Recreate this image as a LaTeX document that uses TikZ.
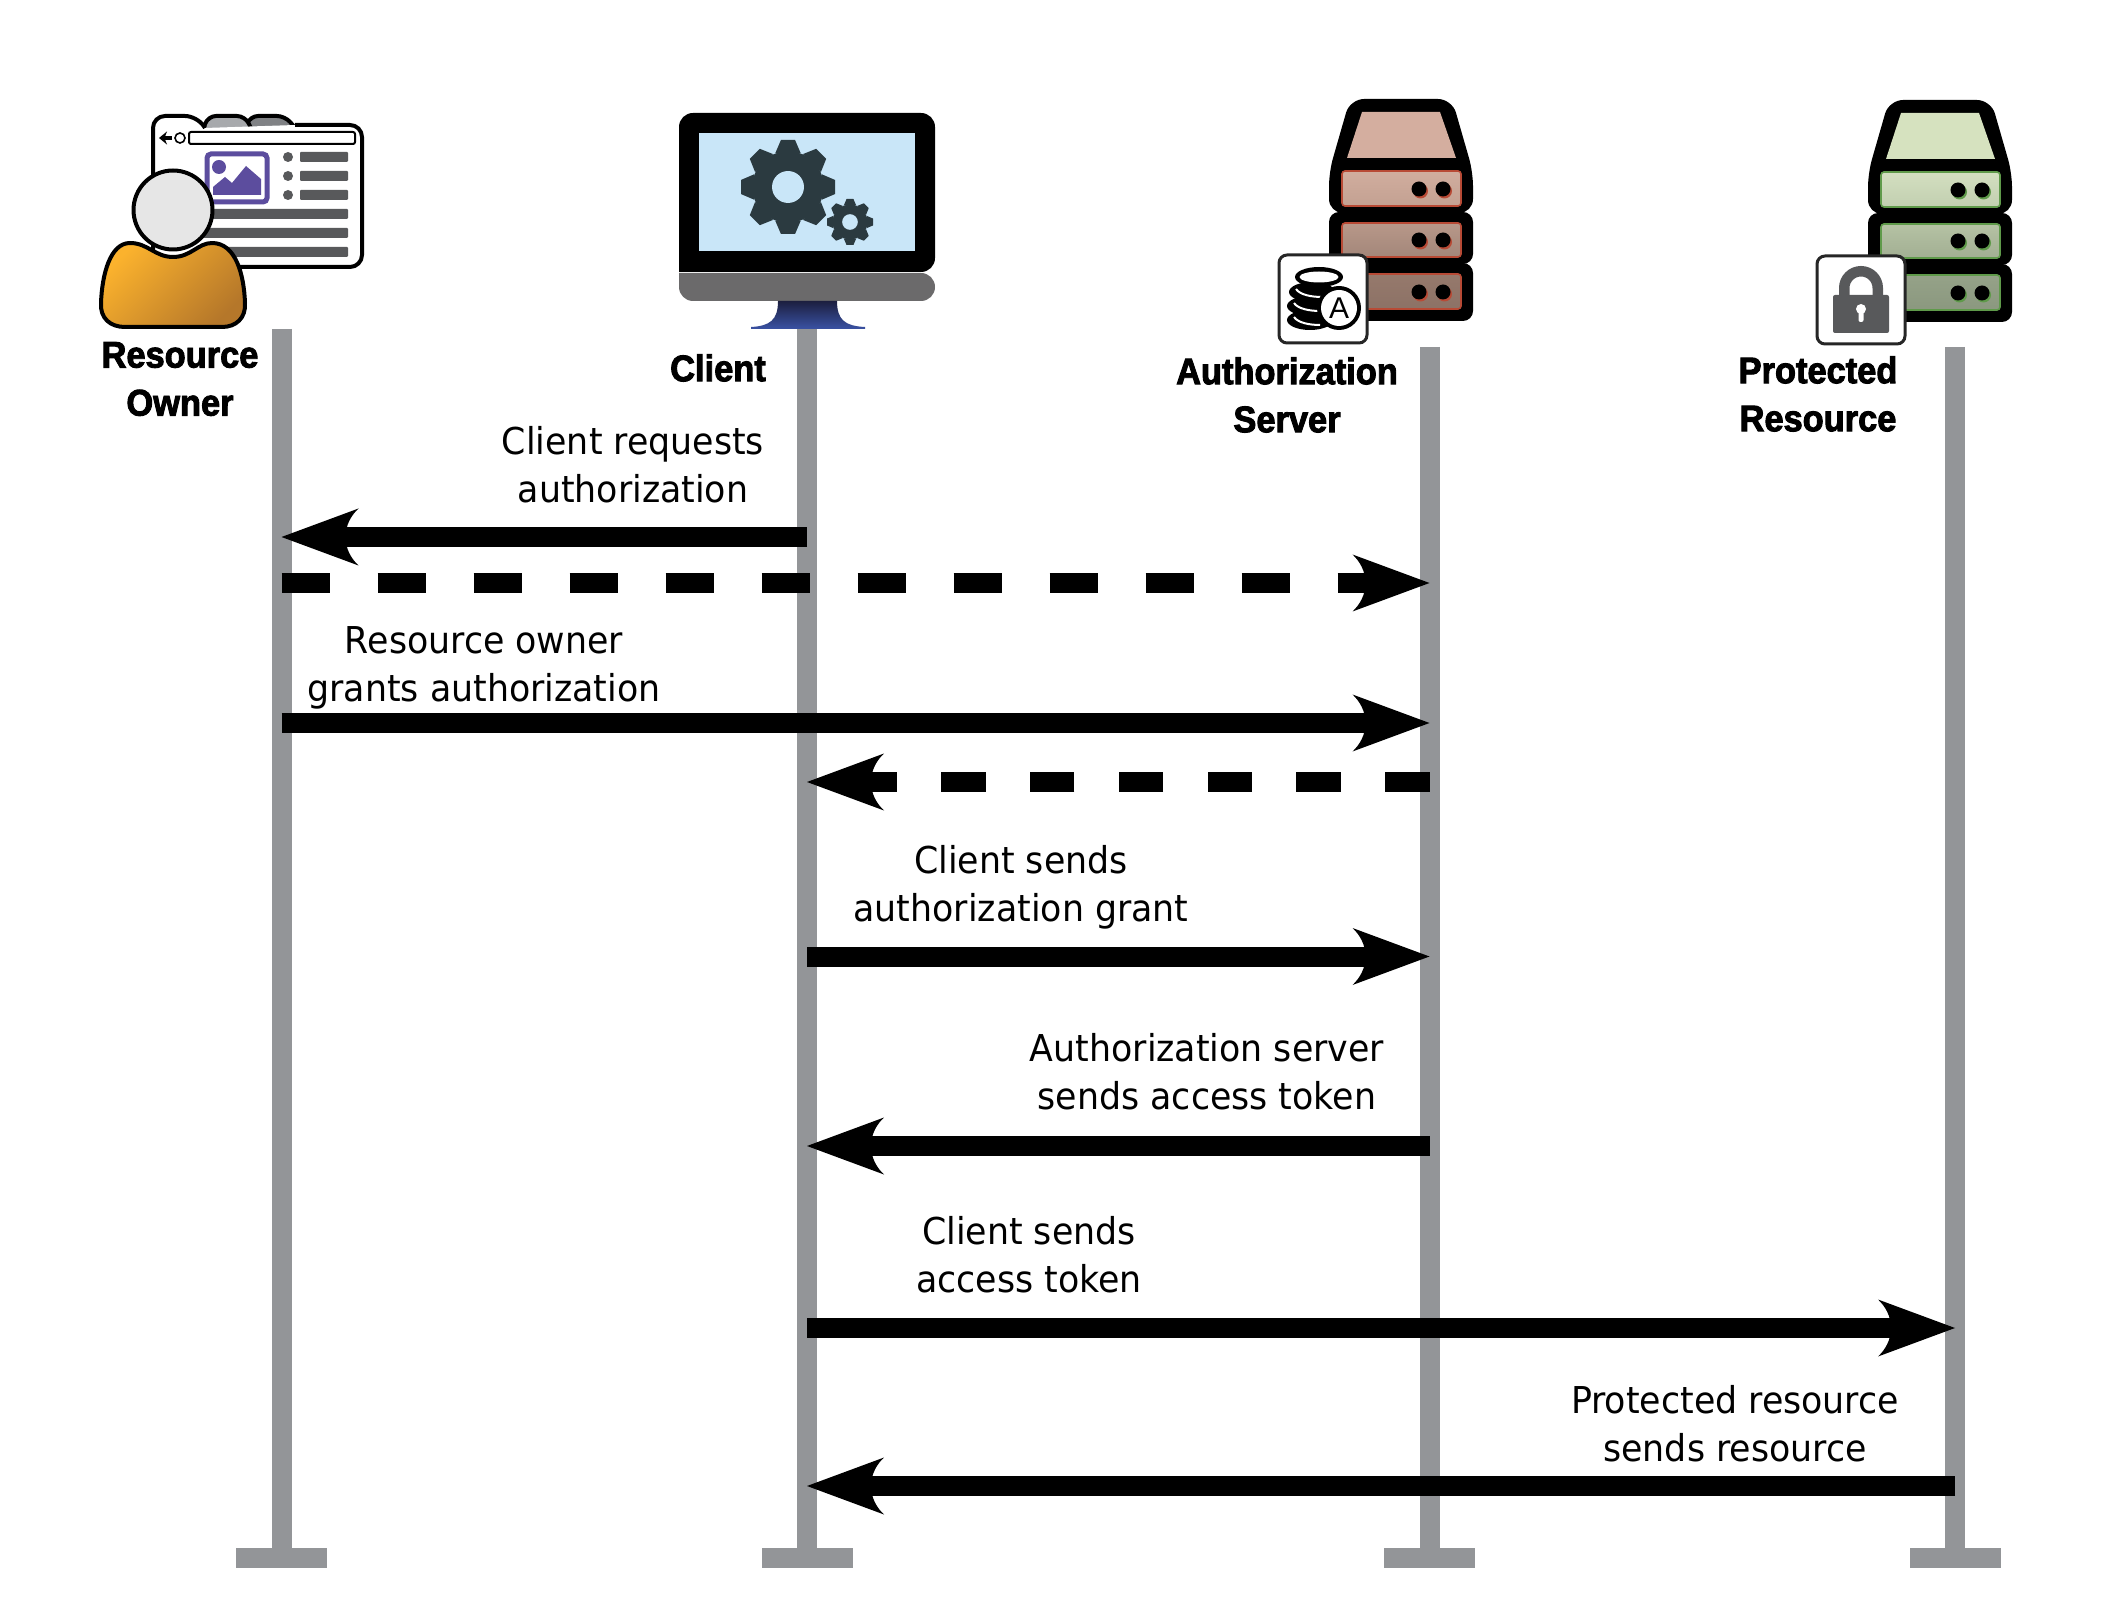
\documentclass[tikz,border=0pt]{standalone}
\usepackage{fontspec}
\usepackage{tikz}
\usetikzlibrary{arrows.meta}
\newfontfamily\msgfont[FakeStretch=.94]{DejaVu Sans}
\newfontfamily\actorfont[UprightFont={* Bold},FakeStretch=.93,FakeBold=2.5]{Liberation Sans}

\definecolor{linegray}{HTML}{939598}
\definecolor{bardark}{HTML}{58595B}
\definecolor{picpurple}{HTML}{5C4D9E}
\definecolor{tabone}{HTML}{A7A9AC}
\definecolor{tabtwo}{HTML}{808285}
\definecolor{shirtA}{HTML}{FBB22D}
\definecolor{shirtB}{HTML}{B5772A}
\definecolor{headfill}{HTML}{E6E6E6}
\definecolor{screenblue}{HTML}{C9E6F8}
\definecolor{gearcol}{HTML}{2B3A40}
\definecolor{basegray}{HTML}{6B6A6B}
\definecolor{standA}{HTML}{1C1F3F}
\definecolor{standB}{HTML}{3A52A4}
\definecolor{redcap}{HTML}{D4AE9F}
\definecolor{redA}{HTML}{D1AD9E}
\definecolor{redB}{HTML}{C3A192}
\definecolor{redC}{HTML}{B89889}
\definecolor{redD}{HTML}{A3877A}
\definecolor{redE}{HTML}{96796C}
\definecolor{redF}{HTML}{8C7266}
\definecolor{redline}{HTML}{B84A35}
\definecolor{greencap}{HTML}{D6E2BF}
\definecolor{greenA}{HTML}{D3DFC0}
\definecolor{greenB}{HTML}{C2CFB0}
\definecolor{greenC}{HTML}{B5C2A4}
\definecolor{greenD}{HTML}{A2AF93}
\definecolor{greenE}{HTML}{95A288}
\definecolor{greenF}{HTML}{8B987F}
\definecolor{greenline}{HTML}{5F9A4A}

% barbed head with hollow back edges
\pgfdeclarearrow{
  name=msghead,
  setup code={
    \pgfarrowssettipend{0pt}
    \pgfarrowssetbackend{-38.5pt}
    \pgfarrowssetlineend{-30pt}
    \pgfarrowssetvisualbackend{-32pt}
  },
  drawing code={
    \pgfpathmoveto{\pgfpoint{0pt}{0pt}}
    \pgfpathlineto{\pgfpoint{-38.5pt}{14.25pt}}
    \pgfpathcurveto{\pgfpoint{-35pt}{11pt}}{\pgfpoint{-32pt}{6pt}}{\pgfpoint{-32pt}{0pt}}
    \pgfpathcurveto{\pgfpoint{-32pt}{-6pt}}{\pgfpoint{-35pt}{-11pt}}{\pgfpoint{-38.5pt}{-14.25pt}}
    \pgfpathclose
    \pgfusepathqfill
  }
}

% one unit gear, #1 #2 centre, #3 outer radius
\newcommand{\gearicon}[3]{
  \begin{scope}[shift={(#1,#2)},x=#3*.5pt,y=#3*.5pt]
    \foreach \a in {0,45,...,315}
      \fill[gearcol,rotate=\a] (-.27,-.72) -- (-.15,-1) -- (.15,-1) -- (.27,-.72) -- cycle;
    \fill[gearcol] (0,0) circle (.76);
    \fill[screenblue] (0,0) circle (.34);
  \end{scope}
}
% server rack, #1 #2 shift, #3 colour prefix
\newcommand{\serverrack}[3]{
  \begin{scope}[shift={(#1,#2)}]
    \fill[rounded corners=7pt] (1329,213) -- (1329,172) -- (1350,99) -- (1452,99) -- (1473,172) -- (1473,213) -- cycle;
    \fill[rounded corners=5pt] (1329,212) rectangle (1473,264);
    \fill[rounded corners=5pt] (1329,263) rectangle (1473,321);
    \fill[#3cap] (1362,112) -- (1440,112) -- (1456,158) -- (1347,158) -- cycle;
    \path[drawer,draw=#3line,top color=#3A,bottom color=#3B] (1342,171) rectangle (1461,206);
    \path[drawer,draw=#3line,top color=#3C,bottom color=#3D] (1342,223) rectangle (1461,257);
    \path[drawer,draw=#3line,top color=#3E,bottom color=#3F] (1342,274) rectangle (1461,309);
    \foreach \dy in {189,240,292} {
      \fill[#3line] (1420.5,\dy+2) circle (7.5);
      \fill[#3line] (1444.5,\dy+2) circle (7.5);
      \fill (1419,\dy) circle (7.5);
      \fill (1443,\dy) circle (7.5);
    }
  \end{scope}
}

\tikzset{
  lifeline/.style={linegray,line width=10pt},
  foot/.style={fill=linegray,inner sep=0pt,minimum width=45.5pt,minimum height=10pt},
  msg/.style={line width=10pt,-msghead},
  msgdashA/.style={msg,dash pattern=on 24pt off 24pt},
  msgdashB/.style={msg,dash pattern=on 22.2pt off 22.2pt},
  msgtext/.style={inner sep=0pt,align=center,font=\msgfont\fontsize{18.5}{24}\selectfont},
  actor/.style={inner sep=0pt,align=center,font=\actorfont\fontsize{18.5}{24}\selectfont},
  badge/.style={draw=black!85,line width=1.5pt,fill=white,rounded corners=4pt,inner sep=0pt,minimum size=44pt},
  drawer/.style={line width=.8pt,rounded corners=1.5pt},
  outl/.style={line width=2pt,line join=round},
}

\begin{document}
\begin{tikzpicture}[x=.5pt,y=-.5pt]
\useasboundingbox (0,0) rectangle (2121,1604);

% lifelines
\node[foot] (ownerfoot) at (281.5,1558) {};
\node[foot] (clientfoot) at (807,1558) {};
\node[foot] (authfoot) at (1429.5,1558) {};
\node[foot] (resfoot) at (1955,1558) {};
\coordinate (ownertop) at (281.5,329);
\coordinate (clienttop) at (807,325);
\coordinate (authtop) at (1429.5,347);
\coordinate (restop) at (1955,347);
\draw[lifeline] (ownertop) -- (ownerfoot.center);
\draw[lifeline] (clienttop) -- (clientfoot.center);
\draw[lifeline] (authtop) -- (authfoot.center);
\draw[lifeline] (restop) -- (resfoot.center);

% browser window
\draw[outl,fill=tabtwo,rounded corners=4pt] (245,130) -- (250,116) -- (285,116) -- (297,130);
\draw[outl,fill=tabone,rounded corners=4pt] (203,130) -- (208,116) -- (245,116) -- (252,130);
\draw[outl,fill=white,rounded corners=6pt] (205,128) -- (197,116) -- (153,116) -- (153,267) -- (362,267) -- (362,125) -- (295,125);
\draw[line width=1pt,rounded corners=1pt,fill=white] (189,132) rectangle (355,144);
\draw[line width=2pt,-{Stealth[length=4pt,width=6.5pt]}] (172,138) -- (159,138);
\draw[line width=.8pt] (180,138) circle (5);
\draw[picpurple,line width=2.5pt,fill=white,rounded corners=2pt] (207,154) rectangle (267,202);
\fill[picpurple] (219,167) circle (7);
\fill[picpurple] (213,187) -- (225,177) -- (232,183) -- (246,166) -- (261,179) -- (261,195) -- (213,195) -- cycle;
\foreach \y in {157,176,195} {
  \fill[bardark] (288,\y) circle (5);
  \fill[bardark,rounded corners=.5pt] (300,\y-5) rectangle (348,\y+5);
}
\foreach \y in {214,233,252}
  \fill[bardark,rounded corners=.5pt] (200,\y-5) rectangle (348,\y+5);

% person
\draw[outl,left color=shirtA,right color=shirtB,shading angle=45]
  (173,257) .. controls (155,257) and (148,243) .. (130,243)
  .. controls (110,243) and (102,275) .. (101,303)
  .. controls (100,318) and (110,327) .. (125,327) -- (222,327)
  .. controls (236,327) and (246,318) .. (245,303)
  .. controls (244,275) and (236,243) .. (212,243)
  .. controls (198,243) and (191,257) .. (173,257) -- cycle;
\draw[outl,fill=headfill] (173,210) circle (39.5);

% client monitor
\fill[rounded corners=7pt] (679,272) -- (679,113) -- (935,113) -- (935,272) [sharp corners] -- cycle;
\fill[screenblue] (699,133) rectangle (915,251);
\fill[basegray,rounded corners=7pt] (679,273) -- (679,301) -- (935,301) -- (935,273) [sharp corners] -- cycle;
\shade[top color=standA,bottom color=standB] (778,301) -- (837,301) .. controls (837,320) and (845,326) .. (865,327)
  -- (865,329) -- (751,329) -- (751,327) .. controls (770,326) and (778,320) .. (778,301) -- cycle;
\gearicon{788}{187}{47}
\gearicon{850}{222}{23}

% servers
\serverrack{0}{0}{red}
\serverrack{539}{1}{green}

% authorization badge
\node[badge] (authbadge) at (1323,299) {};
\fill (1312,292) ellipse (23 and 10);
\fill (1310,306) ellipse (23 and 10);
\fill (1310,320) ellipse (23 and 10);
\draw[white,line width=1pt] (1296,289) .. controls (1300,295) and (1312,297) .. (1322,297);
\draw[white,line width=1pt] (1294,303) .. controls (1298,309) and (1310,311) .. (1320,311);
\draw[white,line width=1pt] (1294,317) .. controls (1298,323) and (1310,325) .. (1320,325);
\fill (1319,277) ellipse (24 and 10);
\fill[white] (1319,277) ellipse (19.5 and 5.5);
\fill (1339,308) circle (22);
\node[circle,fill=white,inner sep=0pt,minimum size=18pt,font=\fontspec{Liberation Sans}\fontsize{15}{15}\selectfont] (authcoin) at (1339,308) {A};

% resource badge
\node[badge] (resbadge) at (1861,300) {};
\draw[bardark,line width=5.25pt] (1844.25,300) -- (1844.25,288) arc (180:360:16.75) -- (1877.75,300);
\fill[bardark,rounded corners=1pt] (1833,295) rectangle (1889,333);
\fill[white] (1861,309) circle (5);
\fill[white,rounded corners=1pt] (1858.5,309) rectangle (1863.5,322);

% actor names
\node[actor] (ownername) at (180,379) {Resource\\Owner};
\node[actor] (clientname) at (718,368) {Client};
\node[actor] (authname) at (1287,395) {Authorization\\Server};
\node[actor] (resname) at (1818,394) {Protected\\Resource};

% message labels
\node[msgtext] (msgone) at (633,465) {Client requests\\authorization};
\node[msgtext] (msgtwo) at (484,668) {Resource owner\\grants authorization};
\node[msgtext] (msgthree) at (1021,887) {Client sends\\authorization grant};
\node[msgtext] (msgfour) at (1207,1072) {Authorization server\\sends access token};
\node[msgtext] (msgfive) at (1029,1255) {Client sends\\access token};
\node[msgtext] (msgsix) at (1735,1424) {Protected resource\\sends resource};

% messages
\coordinate (ca) at (807,537);
\coordinate (oa) at (281.5,537);
\coordinate (ob) at (281.5,583);
\coordinate (ab) at (1429.5,583);
\coordinate (oc) at (281.5,723);
\coordinate (ac) at (1429.5,723);
\coordinate (ad) at (1429.5,782);
\coordinate (cd) at (807,782);
\coordinate (ce) at (807,956.5);
\coordinate (ae) at (1429.5,956.5);
\coordinate (af) at (1429.5,1146);
\coordinate (cf) at (807,1146);
\coordinate (cg) at (807,1328);
\coordinate (rg) at (1955,1328);
\coordinate (rh) at (1955,1486);
\coordinate (ch) at (807,1486);
\draw[msg] (ca) -- (oa);
\draw[msgdashA] (ob) -- (ab);
\draw[msg] (oc) -- (ac);
\draw[msgdashB] (ad) -- (cd);
\draw[msg] (ce) -- (ae);
\draw[msg] (af) -- (cf);
\draw[msg] (cg) -- (rg);
\draw[msg] (rh) -- (ch);
\end{tikzpicture}
\end{document}
